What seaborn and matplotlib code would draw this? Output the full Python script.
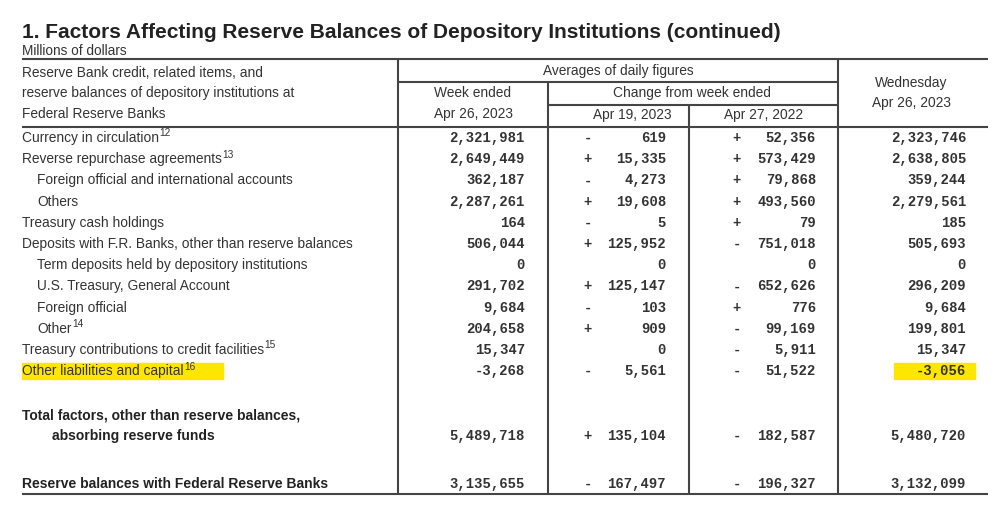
import matplotlib
matplotlib.use("Agg")
import matplotlib.pyplot as plt
import seaborn as sns
from matplotlib.patches import Rectangle
from matplotlib import font_manager

# table rows (Millions of dollars)
row_labels = ["Currency in circulation",
              "Reverse repurchase agreements",
              "Foreign official and international accounts",
              "Others",
              "Treasury cash holdings",
              "Deposits with F.R. Banks, other than reserve balances",
              "Term deposits held by depository institutions",
              "U.S. Treasury, General Account",
              "Foreign official",
              "Other",
              "Treasury contributions to credit facilities",
              "Other liabilities and capital"]
row_indent = [0, 0, 1, 1, 0, 0, 1, 1, 1, 1, 0, 0]
row_notes = ["12", "13", "", "", "", "", "", "", "", "14", "15", "16"]

week_ended = [2321981, 2649449, 362187, 2287261, 164, 506044, 0, 291702, 9684, 204658, 15347, -3268]
chg_prev_week = [-619, 15335, -4273, 19608, -5, 125952, 0, 125147, -103, 909, 0, -5561]
chg_prev_year = [52356, 573429, 79868, 493560, 79, -751018, 0, -652626, 776, -99169, -5911, -51522]
wednesday = [2323746, 2638805, 359244, 2279561, 185, 505693, 0, 296209, 9684, 199801, 15347, -3056]

total_labels = ["Total factors, other than reserve balances,", "absorbing reserve funds"]
total_values = [5489718, 135104, -182587, 5480720]
reserve_label = "Reserve balances with Federal Reserve Banks"
reserve_values = [3135655, -167497, -196327, 3132099]

highlight_row = 11

title = "1. Factors Affecting Reserve Balances of Depository Institutions (continued)"
subtitle = "Millions of dollars"
stub_header = ["Reserve Bank credit, related items, and",
               "reserve balances of depository institutions at",
               "Federal Reserve Banks"]

sns.set_theme(style="white")
plt.rcParams["font.family"] = ["Liberation Sans", "DejaVu Sans"]

names = {f.name for f in font_manager.fontManager.ttflist}
narrow = "Liberation Sans Narrow" if "Liberation Sans Narrow" in names else "Liberation Sans"
mono = "Liberation Mono"

TXT = "#333333"
LINE = "#444444"
YEL = "#ffe600"

fig = plt.figure(figsize=(10, 5.08), dpi=100)
ax = fig.add_axes([0, 0, 1, 1])
ax.set_xlim(0, 1000)
ax.set_ylim(508, 0)
ax.axis("off")
renderer = fig.canvas.get_renderer()

# column geometry
x_left, x_right = 22, 988
v1, v2, v3, v4 = 398, 548, 689, 838
x_week_r = 525
x_c1_sign, x_c1_r = 588, 666
x_c2_sign, x_c2_r = 737, 816
x_wed_r = 966

# titles
ax.text(x_left, 32, title, fontsize=15, fontweight="bold", color="#222222", va="center")
ax.text(x_left, 51, subtitle, fontsize=9.8, color=TXT, va="center")

# rules
lw = 1.5
ax.hlines([59, 127, 494], x_left, x_right, color=LINE, lw=lw)
ax.hlines(82, v1, v4, color=LINE, lw=lw)
ax.hlines(105, v2, v4, color=LINE, lw=lw)
ax.vlines([v1, v4], 59, 494, color=LINE, lw=lw)
ax.vlines(v2, 82, 494, color=LINE, lw=lw)
ax.vlines(v3, 105, 494, color=LINE, lw=lw)

# header
hs = 9.9
for i, s in enumerate(stub_header):
    ax.text(x_left, 73 + 20.5 * i, s, fontsize=hs, color=TXT, va="center")
ax.text((v1 + v4) / 2, 71, "Averages of daily figures", fontsize=hs, color=TXT, ha="center", va="center")
ax.text((v1 + v2) / 2, 93, "Week ended", fontsize=hs, color=TXT, ha="center", va="center")
ax.text((v1 + v2) / 2, 114, "Apr 26, 2023", fontsize=hs, color=TXT, ha="center", va="center")
ax.text(692, 93, "Change from week ended", fontsize=hs, color=TXT, ha="center", va="center")
ax.text(632, 115, "Apr 19, 2023", fontsize=hs, color=TXT, ha="center", va="center")
ax.text((v3 + v4) / 2, 115, "Apr 27, 2022", fontsize=hs, color=TXT, ha="center", va="center")
ax.text(911, 83, "Wednesday", fontsize=hs, color=TXT, ha="center", va="center")
ax.text(911, 103, "Apr 26, 2023", fontsize=hs, color=TXT, ha="center", va="center")


def sign_of(v):
    if v == 0:
        return ""
    return "+" if v > 0 else "-"


def put_numbers(y, vals, weight="bold", size=10):
    kw = dict(family=mono, fontsize=size, fontweight=weight, color=TXT, va="center")
    ax.text(x_week_r, y, f"{vals[0]:,}", ha="right", **kw)
    ax.text(x_c1_sign, y, sign_of(vals[1]), ha="center", **kw)
    ax.text(x_c1_r, y, f"{abs(vals[1]):,}", ha="right", **kw)
    ax.text(x_c2_sign, y, sign_of(vals[2]), ha="center", **kw)
    ax.text(x_c2_r, y, f"{abs(vals[2]):,}", ha="right", **kw)
    ax.text(x_wed_r, y, f"{vals[3]:,}", ha="right", **kw)


inv = ax.transData.inverted()
for i, lab in enumerate(row_labels):
    y = 138 + 21.2 * i
    t = ax.text(x_left + 15 * row_indent[i], y, lab, fontsize=hs, color=TXT, va="center")
    if row_notes[i]:
        bb = t.get_window_extent(renderer)
        x_end = inv.transform((bb.x1, bb.y0))[0]
        ax.text(x_end + 0.5, y - 4.5, row_notes[i], fontsize=7.3, color=TXT, va="center")
    put_numbers(y, [week_ended[i], chg_prev_week[i], chg_prev_year[i], wednesday[i]])
    if i == highlight_row:
        ax.add_patch(Rectangle((x_left, y - 8.5), 223 - x_left, 16.5, color=YEL, zorder=0))
        ax.add_patch(Rectangle((894, y - 8.5), 975 - 894, 16.5, color=YEL, zorder=0))

# totals
bold_kw = dict(family=[narrow, "Liberation Sans"], fontsize=10, fontweight="bold", color="#222222", va="center")
ax.text(x_left, 415, total_labels[0], **bold_kw)
ax.text(x_left + 30, 436, total_labels[1], **bold_kw)
put_numbers(436, total_values)
ax.text(x_left, 484, reserve_label, **bold_kw)
put_numbers(484, reserve_values)

fig.savefig("out.png", dpi=100)
